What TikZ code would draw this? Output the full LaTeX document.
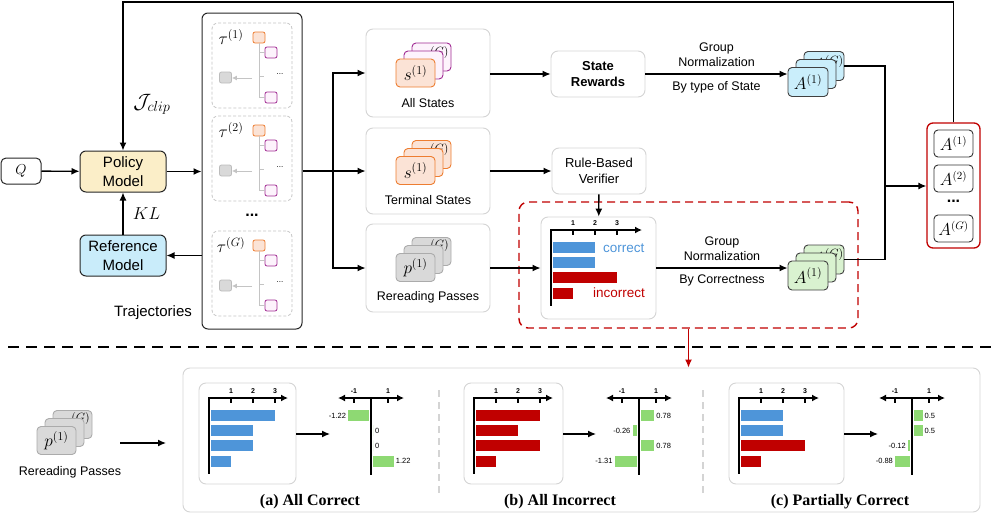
\documentclass[tikz,border=0pt]{standalone}
\usepackage{amsmath}
\usepackage{fontspec}
\setmainfont{Liberation Sans}
\newfontfamily\capfont{Liberation Serif}
\usetikzlibrary{arrows.meta,positioning}

\definecolor{policyfill}{HTML}{FBEEC8}
\definecolor{reffill}{HTML}{C9ECFA}
\definecolor{orangeedge}{HTML}{ED7D31}
\definecolor{orangefill}{HTML}{FBE3D6}
\definecolor{purpleedge}{HTML}{A02B93}
\definecolor{purplefill}{HTML}{FDF3FC}
\definecolor{greyfill}{HTML}{D9D9D9}
\definecolor{greyedge}{HTML}{ABABAB}
\definecolor{softedge}{HTML}{D4D4D4}
\definecolor{bluecard}{HTML}{CAEEFB}
\definecolor{greencard}{HTML}{D9F2D0}
\definecolor{barblue}{HTML}{4E95D9}
\definecolor{barred}{HTML}{C00000}
\definecolor{bargreen}{HTML}{8ED973}

\newcommand{\fs}[2]{\fontsize{#1}{#2}\selectfont}

\tikzset{
  conn/.style={line width=1.3pt, -{Latex[length=8pt,width=7pt]}},
  wire/.style={line width=1.3pt},
  model/.style={draw=black!85, line width=1pt, rounded corners=6pt, minimum width=86pt,
    minimum height=41pt, align=center, inner sep=0pt, font=\fs{15}{19}},
  qbox/.style={draw=black!85, line width=1pt, rounded corners=5pt, minimum width=40pt,
    minimum height=26pt, inner sep=0pt, font=\fs{15}{18}},
  softbox/.style={draw=softedge, line width=0.9pt, rounded corners=7pt, inner sep=0pt},
  stepbox/.style={softbox, minimum width=94pt, minimum height=46pt, align=center, font=\fs{13}{16}},
  trajbox/.style={draw=greyedge!70, dash pattern=on 3pt off 2pt, line width=0.8pt,
    rounded corners=6pt, minimum width=80pt, minimum height=85pt},
  rootsq/.style={draw=orangeedge, fill=orangefill, line width=0.8pt, rounded corners=2pt,
    minimum width=12pt, minimum height=11pt, inner sep=0pt},
  leafsq/.style={rootsq, draw=purpleedge, fill=purplefill},
  greysq/.style={rootsq, draw=greyedge!80, fill=greyfill},
  treeline/.style={draw=greyedge!70, line width=0.9pt},
  card/.style={draw, line width=0.9pt, rounded corners=4pt, minimum width=39pt,
    minimum height=28pt, inner sep=0pt, font=\fs{17}{17}},
  ocard/.style={card, draw=orangeedge, fill=orangefill},
  pcard/.style={card, draw=purpleedge, fill=purplefill},
  gcard/.style={card, draw=greyedge, fill=greyfill},
  bcard/.style={card, draw=black!75, fill=bluecard, minimum width=40pt, minimum height=29pt},
  ecard/.style={card, draw=black!75, fill=greencard, minimum width=40pt, minimum height=29pt},
  abox/.style={draw=black!80, line width=0.9pt, rounded corners=4pt, minimum width=39pt,
    minimum height=27pt, inner sep=0pt, font=\fs{16}{16}},
  label/.style={font=\fs{12.5}{15}, align=center},
  axisline/.style={line width=1.5pt},
  ticklab/.style={font=\bfseries\fs{7}{8}},
  vallab/.style={font=\fs{7.5}{8}, inner sep=0pt},
  caption/.style={font=\capfont\bfseries\fs{16}{18}},
}

% stacked cards: name, x, y, front style, back style, front text, back text
\newcommand{\cards}[7]{%
  \node[#5] (#1-3) at ({#2+16},{#3-16}) {};
  \node[font=\fs{17}{17}, inner sep=0pt] (#1-3t) at ({#2+20},{#3-19}) {$#7$};
  \node[#5] (#1-2) at ({#2+8},{#3-8}) {};
  \node[#4] (#1-1) at (#2,#3) {$#6$};
}

% one trajectory: name, vertical offset, index
\newcommand{\traj}[3]{%
  \node[trajbox] (#1) at (252,{65.5+#2}) {};
  \node[font=\fs{18}{18}] (#1-tau) at (231,{37+#2}) {$\tau^{(#3)}$};
  \node[rootsq] (#1-r) at (259,{37.5+#2}) {};
  \node[leafsq] (#1-l1) at (271,{52.5+#2}) {};
  \node[leafsq] (#1-l2) at (271,{97.5+#2}) {};
  \node[greysq] (#1-g) at (225.5,{77.5+#2}) {};
  \node[font=\fs{8}{8}] (#1-dots) at (280,{74+#2}) {...};
  \coordinate (#1-m) at (259,{76+#2});
  \coordinate (#1-a) at (252,{78+#2});
  \draw[treeline] (#1-r.south) |- (#1-l2.west);
  \draw[treeline] (#1-r.south |- #1-l1.west) -- (#1-l1.west);
  \draw[treeline] (#1-m) -- ++(5,0);
  \draw[treeline, -{Latex[length=5pt,width=5pt]}] (#1-a) -- (#1-g.east |- #1-a);
}

% reward bars: axis x, axis y, axis length, value/colour list
\newcommand{\rewardchart}[4]{%
  \foreach \v/\c [count=\i] in {#4}
    \fill[\c] ({#1+2},{#2+12+15.2*(\i-1)}) rectangle ({#1+22*\v},{#2+23+15.2*(\i-1)});
  \draw[axisline, -{Latex[length=7pt,width=7pt]}] (#1,#2) -- ({#1+#3},#2);
  \draw[axisline] (#1,{#2-0.7}) -- (#1,{#2+76});
  \foreach \k in {1,2,3} {
    \draw[line width=1.2pt] ({#1+22*\k},{#2-1}) -- ({#1+22*\k},{#2+5});
    \node[ticklab] at ({#1+22*\k},{#2-7}) {\k};
  }
}

% advantages: axis x, value/offset/anchor list
\newcommand{\advchart}[2]{%
  \foreach \v/\o/\a [count=\i] in {#2} {
    \fill[bargreen] ({#1+\o},{410+15.2*(\i-1)}) rectangle ({#1+\o+17*\v},{421+15.2*(\i-1)});
    \node[vallab, anchor=\a] at ({#1+2*\o+17*\v},{415.5+15.2*(\i-1)}) {\v};
  }
  \draw[axisline, {Latex[length=7pt,width=7pt]}-{Latex[length=7pt,width=7pt]}] ({#1-33},398) -- ({#1+33},398);
  \draw[axisline] (#1,398) -- (#1,475);
  \draw[line width=1.2pt] ({#1-17},397) -- ({#1-17},403);
  \draw[line width=1.2pt] ({#1+17},397) -- ({#1+17},403);
  \node[ticklab] at ({#1-17},391) {-1};
  \node[ticklab] at ({#1+17},391) {1};
}

\begin{document}
\begin{tikzpicture}[x=1pt,y=-1pt]
\useasboundingbox (0,0) rectangle (996,522);

% focus frame and separator
\node[draw=barred, line width=1.4pt, dash pattern=on 8pt off 5pt, rounded corners=9pt,
  minimum width=339pt, minimum height=126pt] (focus) at (688.5,265) {};
\draw[line width=1.6pt, dash pattern=on 11pt off 7pt] (8,347) -- (996,347);

% left part
\node[qbox] (q) at (21,171) {$Q$};
\node[model, fill=policyfill] (policy) at (123,171.5) {Policy\\Model};
\node[model, fill=reffill] (ref) at (123,255.5) {Reference\\Model};
\node[font=\fs{20}{20}] (jclip) at (152,104) {$\mathcal{J}_{clip}$};
\node[draw=black!85, line width=1pt, rounded corners=6pt, minimum width=100pt,
  minimum height=316pt] (trajs) at (252,171) {};
\node[font=\fs{15}{15}] (trajlab) at (153,313) {Trajectories};
\traj{t1}{0}{1}
\traj{t2}{93}{2}
\traj{tg}{208}{G}
\node[font=\bfseries\fs{16}{16}] (tdots) at (252,215) {...};

% middle column
\node[softbox, minimum width=124pt, minimum height=88pt] (allst) at (428,73) {};
\node[softbox, minimum width=124pt, minimum height=86pt] (termst) at (428,171) {};
\node[softbox, minimum width=124pt, minimum height=88pt] (reread) at (428,268) {};
\cards{sa}{415.5}{73}{ocard}{pcard}{s^{(1)}}{s^{(G)}}
\cards{st}{415.5}{170.5}{ocard}{ocard}{s^{(1)}}{s^{(G)}}
\cards{pr}{415.5}{267.5}{gcard}{gcard}{p^{(1)}}{p^{(G)}}
\node[label] (allstlab) at (428,103) {All States};
\node[label] (termstlab) at (428,200) {Terminal States};
\node[label] (rereadlab) at (428,297) {Rereading Passes};

% rewards
\node[stepbox, font=\bfseries\fs{13}{16}] (rewards) at (598,74) {State\\Rewards};
\node[stepbox] (verifier) at (599,171) {Rule-Based\\Verifier};
\node[softbox, minimum width=115pt, minimum height=102pt] (chart) at (598.5,268) {};
\rewardchart{551}{230}{91}{2/barblue,2/barblue,3/barred,1/barred}
\node[font=\fs{13.5}{14}, text=barblue, anchor=west, inner sep=0pt] (corr) at (603,248) {correct};
\node[font=\fs{13.5}{14}, text=barred, anchor=west, inner sep=0pt] (incorr) at (593,293) {incorrect};

% advantages
\cards{ab}{808}{82}{bcard}{bcard}{A^{(1)}}{A^{(G)}}
\cards{ag}{808}{275.5}{ecard}{ecard}{A^{(1)}}{A^{(G)}}
\node[draw=barred, line width=1.3pt, rounded corners=6pt, minimum width=53pt,
  minimum height=125pt] (advs) at (953.5,185.5) {};
\node[abox] (adv1) at (953.5,143.5) {$A^{(1)}$};
\node[abox] (adv2) at (953.5,178.5) {$A^{(2)}$};
\node[font=\bfseries\fs{16}{16}] (advdots) at (953.5,201) {...};
\node[abox] (advg) at (953.5,228.5) {$A^{(G)}$};
\coordinate (merge) at (885,186);
\coordinate (split) at (333,171);
\coordinate (top) at (0,2);

% draw diagram
\draw[conn] (q) -- (policy);
\draw[conn] (policy) -- (policy -| trajs.west);
\draw[conn] (trajs.west |- ref) -- (ref);
\draw[conn] (ref) -- node[right=6pt, font=\fs{17}{17}] {$KL$} (policy);
\draw[wire] (trajs.east |- split) -- (split);
\draw[conn] (split) |- (allst.west);
\draw[conn] (split) -- (termst.west);
\draw[conn] (split) |- (reread.west);
\draw[conn] (allst.east |- rewards) -- (rewards);
\draw[conn] (termst) -- (verifier);
\draw[conn] (reread) -- (chart);
\draw[conn] (verifier) -- (chart);
\draw[conn] (rewards) -- node[above=3pt, label] {Group\\Normalization}
  node[below=3pt, label] {By type of State} (rewards -| ab-1.west);
\draw[conn] (chart) -- node[above=3pt, label] {Group\\Normalization}
  node[below=3pt, label] {By Correctness} (chart -| ag-1.west);
\draw[wire] (ab-3.east) -| (merge);
\draw[wire] (ag-3.east) -| (merge);
\draw[conn] (merge) -- (advs.west |- merge);
\draw[conn] (advs.north) -- (advs.north |- top) -| (policy.north);

% cases
\node[softbox, minimum width=797pt, minimum height=144pt] (panel) at (581.5,440) {};
\draw[conn, draw=barred, line width=1.2pt, -{Latex[length=8pt,width=7pt]}] (focus.south) -- (focus.south |- panel.north);
\draw[line width=1.4pt, draw=softedge, dash pattern=on 7pt off 5pt] (439,390) -- (439,497);
\draw[line width=1.4pt, draw=softedge, dash pattern=on 7pt off 5pt] (703,390) -- (703,497);

\cards{pb}{56.5}{440.5}{gcard}{gcard}{p^{(1)}}{p^{(G)}}
\node[label] (pblab) at (70,472) {Rereading Passes};
\node[softbox, minimum width=97pt, minimum height=101pt] (ca) at (247.5,433.5) {};
\node[softbox, minimum width=99pt, minimum height=101pt] (cb) at (513.5,433.5) {};
\node[softbox, minimum width=115pt, minimum height=101pt] (cc) at (786.5,433.5) {};
\coordinate (ea) at (330,434);
\coordinate (eb) at (596,434);
\coordinate (ec) at (878,434);
\coordinate (pbend) at (166,443);
\draw[conn] (pbend -| 120,0) -- (pbend);
\draw[conn] (ca.east |- ea) -- (ea);
\draw[conn] (cb.east |- eb) -- (eb);
\draw[conn] (cc.east |- ec) -- (ec);

\rewardchart{209}{398}{79}{3/barblue,2/barblue,2/barblue,1/barblue}
\rewardchart{474}{398}{79}{3/barred,2/barred,3/barred,1/barred}
\rewardchart{739}{398}{80}{2/barblue,2/barblue,3/barred,1/barred}
\advchart{371}{-1.22/-2/east,0/2/west,0/2/west,1.22/2/west}
\advchart{639}{0.78/2/west,-0.26/-2/east,0.78/2/west,-1.31/-2/east}
\advchart{912}{0.5/2/west,0.5/2/west,-0.12/-2/east,-0.88/-2/east}

\node[caption] (capa) at (310,502) {(a) All Correct};
\node[caption] (capb) at (560,502) {(b) All Incorrect};
\node[caption] (capc) at (840,502) {(c) Partially Correct};
\end{tikzpicture}
\end{document}
